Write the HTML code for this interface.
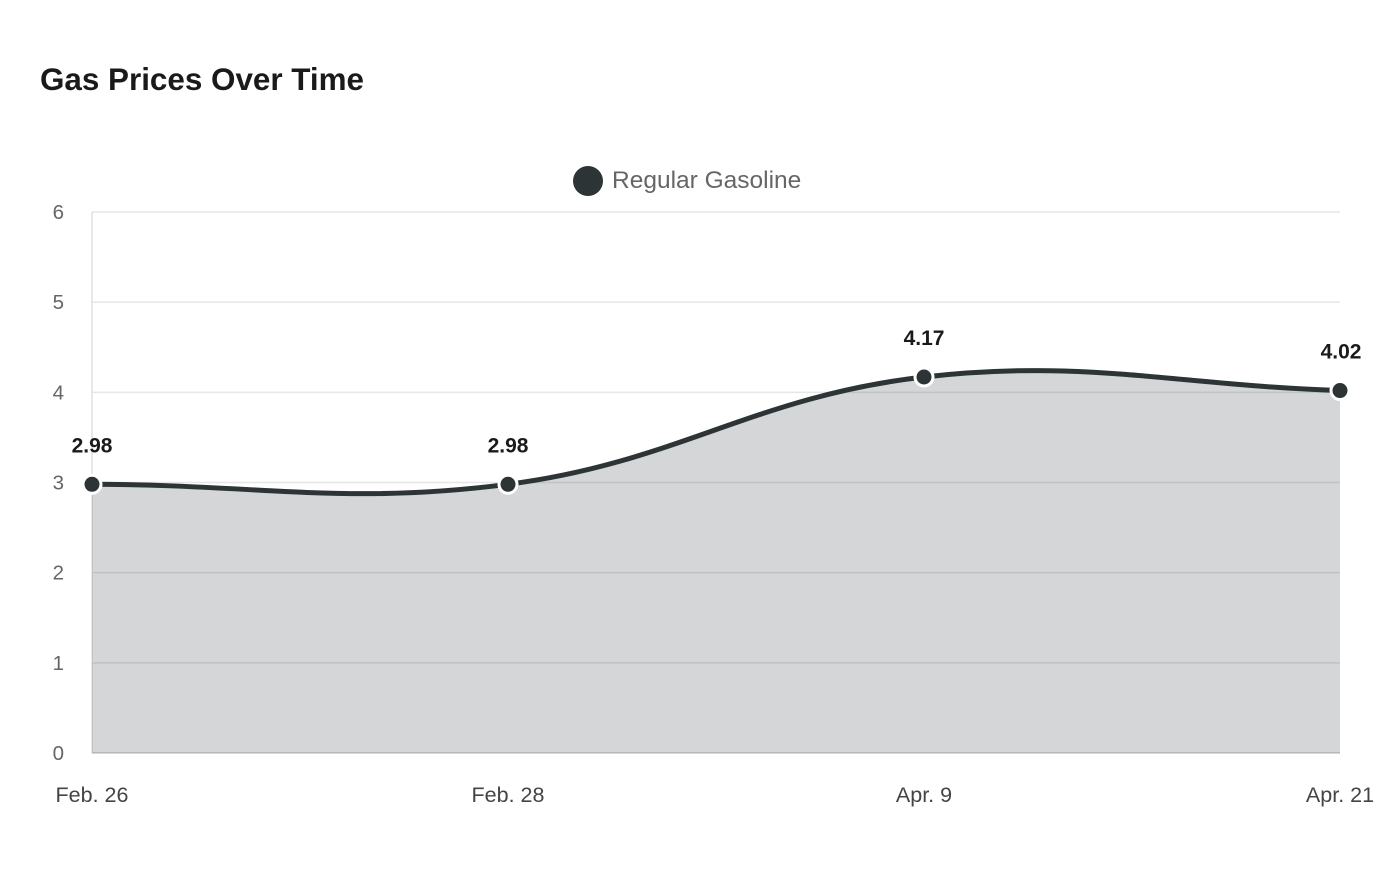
<!DOCTYPE html>
<html><head><meta charset="utf-8">
<style>
body{margin:0;background:#fff;width:1400px;height:880px;overflow:hidden;font-family:"Liberation Sans",Arial,sans-serif}
</style></head>
<body>
<svg id="chart" width="1400" height="880" xmlns="http://www.w3.org/2000/svg" font-family="Liberation Sans, Arial, sans-serif">
<text x="40" y="90" font-size="31.4" font-weight="bold" fill="#1a1a1a">Gas Prices Over Time</text>
<g>
<circle cx="588" cy="181" r="15" fill="#2d3436"/>
<text x="612" y="188" font-size="24.5" fill="#666">Regular Gasoline</text>
</g>
<g id="grid"></g><g id="area"></g><g id="marks"></g>
</svg>
<script>
const categories=["Feb. 26","Feb. 28","Apr. 9","Apr. 21"];
const prices=[2.98,2.98,4.17,4.02];
const yTicks=[0,1,2,3,4,5,6];
const NS="http://www.w3.org/2000/svg";
const X0=92,X1=1340,Y0=753,Y1=212,YMAX=6;
function xs(i){return X0+(X1-X0)*i/(categories.length-1);}
function ys(v){return Y0-(Y0-Y1)*v/YMAX;}
function mk(t,a,p){const e=document.createElementNS(NS,t);for(const k in a)e.setAttribute(k,a[k]);p.appendChild(e);return e;}
const grid=document.getElementById('grid'),area=document.getElementById('area'),marks=document.getElementById('marks');
yTicks.forEach(v=>{
 const l=mk('line',{x1:X0,x2:X1,y1:ys(v),y2:ys(v),stroke:v===0?'#ccc':'#e6e6e6','stroke-width':1.5},grid);
 
 
 const t=mk('text',{x:64,y:ys(v)+7,'font-size':20.5,fill:'#666','text-anchor':'end'},grid);
 t.textContent=v;
 
 
});
const ax=mk('line',{x1:X0,x2:X0,y1:Y1,y2:Y0,stroke:'#e0e0e0','stroke-width':1.5},grid);


categories.forEach((c,i)=>{
 const t=mk('text',{x:xs(i),y:802,'font-size':21.5,fill:'#444','text-anchor':'middle'},grid);
 t.textContent=c;
 
 
});
const pts=prices.map((v,i)=>({x:xs(i),y:ys(v)}));
const T=0.4,cps=pts.map((p,i)=>{
 const p0=pts[i-1]||p,p2=pts[i+1]||p;
 const d01=Math.hypot(p.x-p0.x,p.y-p0.y),d12=Math.hypot(p2.x-p.x,p2.y-p.y);
 let s01=d01/(d01+d12),s12=d12/(d01+d12);if(isNaN(s01))s01=0;if(isNaN(s12))s12=0;
 return {px:p.x-T*s01*(p2.x-p0.x),py:p.y-T*s01*(p2.y-p0.y),nx:p.x+T*s12*(p2.x-p0.x),ny:p.y+T*s12*(p2.y-p0.y)};
});
let d=`M${pts[0].x},${pts[0].y}`;
for(let i=1;i<pts.length;i++)d+=` C${cps[i-1].nx},${cps[i-1].ny} ${cps[i].px},${cps[i].py} ${pts[i].x},${pts[i].y}`;
const fill=mk('path',{d:d+` L${pts[pts.length-1].x},${Y0} L${pts[0].x},${Y0} Z`,fill:'rgba(45,52,54,0.2)'},area);


const line=mk('path',{d:d,fill:'none',stroke:'#2d3436','stroke-width':5},marks);


pts.forEach((p,i)=>{
 const c=mk('circle',{cx:p.x,cy:p.y,r:9,fill:'#2d3436',stroke:'#fff','stroke-width':3},marks);
 
 
 const t=mk('text',{x:p.x+(i===pts.length-1?1:0),y:p.y-32,'font-size':21,'font-weight':'bold',fill:'#1a1a1a','text-anchor':'middle'},marks);
 t.textContent=prices[i].toFixed(2);
 
 
});
</script>
</body></html>
